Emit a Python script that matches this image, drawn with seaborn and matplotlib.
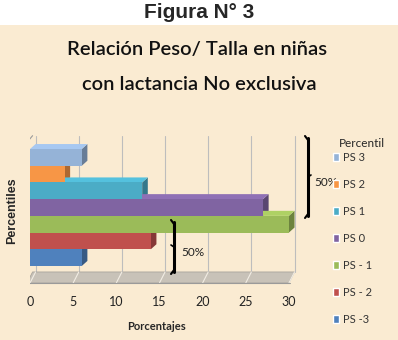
import numpy as np
import seaborn as sns
import matplotlib.pyplot as plt
from matplotlib.patches import Polygon, Rectangle
from matplotlib.lines import Line2D
import matplotlib.colors as mcolors

# data
percentiles = ['PS 3', 'PS 2', 'PS 1', 'PS 0', 'PS - 1', 'PS - 2', 'PS -3']
porcentajes = [6, 4, 13, 27, 30, 14, 6]
colores = ['#95B3D7', '#F79646', '#4BACC6', '#8064A2', '#9BBB59', '#C0504D', '#4F81BD']
ticks = [0, 5, 10, 15, 20, 25, 30]

sns.set_style('white')
plt.rcParams['font.family'] = ['Lato', 'DejaVu Sans']

W, H = 398, 340
fig = plt.figure(figsize=(W / 100, H / 100), dpi=100, facecolor='white')
fig.patches.append(Rectangle((0, 0), 1, 1 - 25 / H, transform=fig.transFigure,
                             facecolor='#FAEBD2', edgecolor='none', zorder=-5))


def fx(px):
    return px / W


def fy(py):
    return 1 - py / H


# axes: 0 at x=30px, 8.63 px per unit; bars 16.7 px high
ax = fig.add_axes([fx(30), fy(285), (300 - 30) / W, (285 - 130) / H])
ax.set_facecolor('none')

sns.barplot(x=porcentajes, y=percentiles, hue=percentiles, palette=colores,
            width=1, orient='h', legend=False, ax=ax, zorder=3,
            edgecolor='none', saturation=1)

x_max = (300 - 30) / 8.63
ax.set_xlim(0, x_max)
ax.set_ylim(7.64, -1.64)

dx, dy = 0.65, -0.3
floor_front, floor_back = 7.52, 6.86

# back wall grid and floor
for k in ticks:
    ax.plot([k + dx, k + dx], [floor_back, -1.3], color='#BDBDBD', lw=0.8, zorder=0)
ax.add_patch(Polygon([(-0.35, floor_front), (30, floor_front), (30 + dx, floor_back),
                      (dx - 0.35, floor_back)], closed=True, facecolor='#C8C2B8',
                     edgecolor='#A8A49C', lw=0.6, zorder=0.5))
for k in ticks:
    ax.plot([k, k + dx], [floor_front, floor_back], color='#F2EDE4', lw=0.8, zorder=0.6)
ax.plot([-0.35, -0.35], [floor_front + 0.4, -0.9], color='#9A9A9A', lw=0.8, zorder=0.6)
ax.plot([-0.35, dx - 0.35], [-0.9, -1.3], color='#9A9A9A', lw=0.8, zorder=0.6)
ax.plot([-0.35, 30 + 0.1], [floor_front, floor_front], color='#9A9A9A', lw=0.8, zorder=0.6)

# pseudo 3D faces
for p, c in zip(ax.patches[:len(percentiles)], colores):
    w, y, h = p.get_width(), p.get_y(), p.get_height()
    rgb = np.array(mcolors.to_rgb(c))
    ax.add_patch(Polygon([(w, y), (w + dx, y + dy), (w + dx, y + h + dy), (w, y + h)],
                         closed=True, facecolor=rgb * 0.7, edgecolor='none', zorder=2))
    ax.add_patch(Polygon([(0, y), (dx, y + dy), (w + dx, y + dy), (w, y)],
                         closed=True, facecolor=np.minimum(rgb * 1.12, 1),
                         edgecolor='none', zorder=2))

ax.set_xticks(ticks)
ax.set_xticklabels([str(t) for t in ticks], fontsize=9, color='#222222')
ax.tick_params(axis='x', length=0, pad=8)
ax.set_yticks([])
ax.set_xlabel('')
ax.set_ylabel('')
for s in ax.spines.values():
    s.set_visible(False)

# texts
fig.text(0.5, fy(12), 'Figura N° 3', ha='center', va='center', fontsize=15,
         fontweight='bold', family=['Liberation Sans', 'DejaVu Sans'])
fig.text(fx(197), fy(50), 'Relación Peso/ Talla en niñas', ha='center', va='center',
         fontsize=14.5, fontweight='semibold', color='#111111')
fig.text(fx(199), fy(85), 'con lactancia No exclusiva', ha='center', va='center',
         fontsize=14.5, fontweight='semibold', color='#111111')
fig.text(fx(12), fy(211), 'Percentiles', rotation=90, ha='center', va='center',
         fontsize=9, fontweight='bold', family=['Liberation Sans', 'DejaVu Sans'])
fig.text(fx(157), fy(326), 'Porcentajes', ha='center', va='center', fontsize=8,
         fontweight='bold')
fig.text(fx(362), fy(143), 'Percentil', ha='center', va='center', fontsize=8.5)

# legend
handles = [Rectangle((0, 0), 1, 1, facecolor=c) for c in colores]
fig.legend(handles, percentiles, loc='upper left', bbox_to_anchor=(fx(327), fy(146)),
           frameon=False, fontsize=8, labelspacing=1.45, handlelength=0.6,
           handleheight=0.7, handletextpad=0.3, borderpad=0, labelcolor='#333333')

# brackets
def bracket(x, y0, y1, tick_dir):
    fig.add_artist(Line2D([fx(x), fx(x)], [fy(y0), fy(y1)], color='black', lw=2.2))
    fig.add_artist(Line2D([fx(x - 3), fx(x)], [fy(y0 - 2), fy(y0 + 2)], color='black', lw=1.5))
    fig.add_artist(Line2D([fx(x - 3), fx(x)], [fy(y1 + 2), fy(y1 - 2)], color='black', lw=1.5))
    ym = (y0 + y1) / 2
    fig.add_artist(Line2D([fx(x), fx(x + 3 * tick_dir)], [fy(ym), fy(ym - 2)], color='black', lw=1.2))


bracket(308, 138, 216, 1)
fig.text(fx(314), fy(182), '50%', ha='left', va='center', fontsize=8.5, color='#222222')
bracket(174, 222, 272, -1)
fig.text(fx(181), fy(253), '50%', ha='left', va='center', fontsize=8.5, color='#222222')

fig.savefig('out.png', dpi=100, facecolor='white')
